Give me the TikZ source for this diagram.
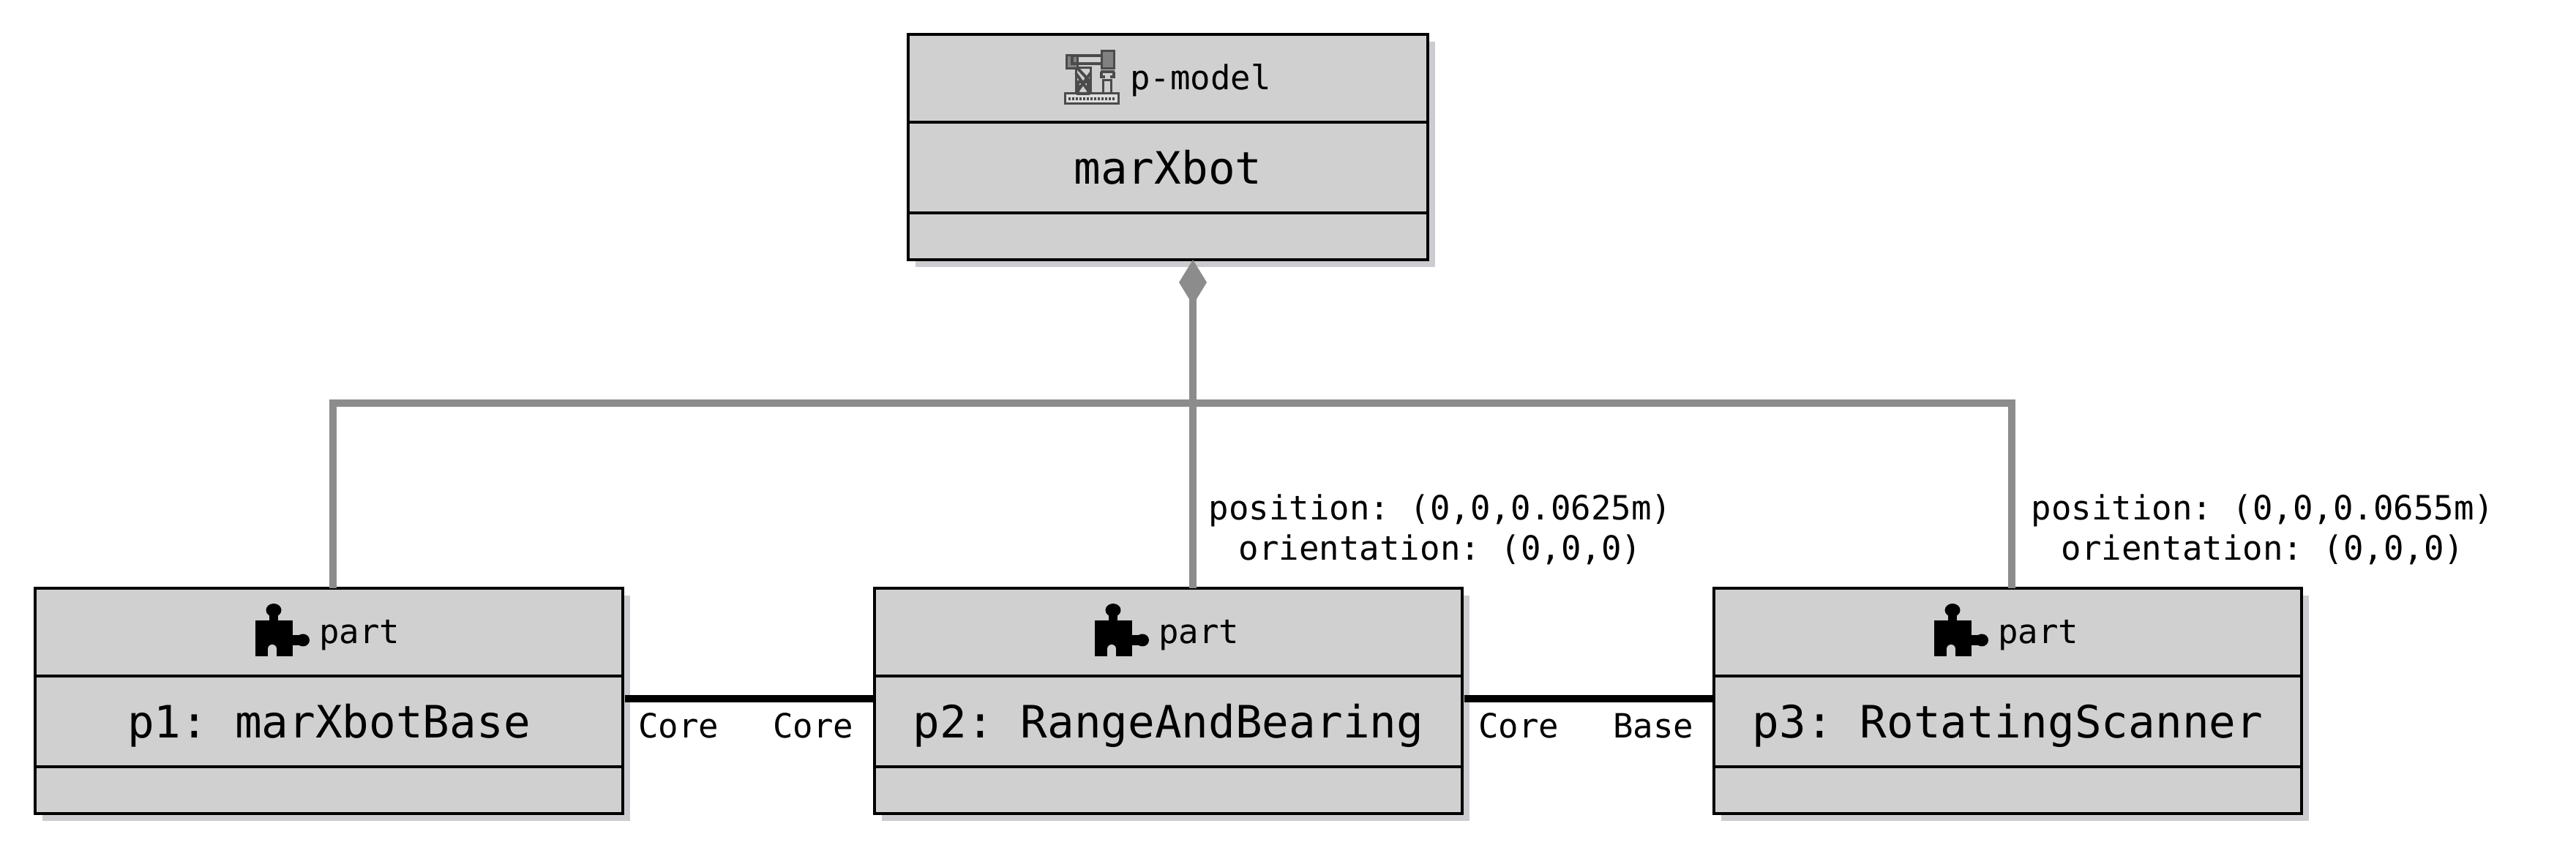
\documentclass[tikz,border=0pt]{standalone}
\usepackage{fontspec}
\setmainfont{DejaVu Sans Mono}
\usetikzlibrary{arrows.meta, positioning, shadows}
\definecolor{boxgrey}{RGB}{208, 208, 208}
\definecolor{shadowgrey}{RGB}{204, 204, 208}
\definecolor{linkgrey}{RGB}{140, 140, 140}
\definecolor{icongrey}{RGB}{75, 75, 75}
\frenchspacing
\tikzset{
  compartment/.style={draw=black, line width=0.035cm, fill=boxgrey, outer sep=0pt, inner sep=0pt,
    drop shadow={shadow xshift=0.1cm, shadow yshift=-0.1cm, fill=shadowgrey, opacity=1}},
  headbox/.style={compartment, minimum height=1.2cm},
  namebox/.style={compartment, minimum height=1.24cm, text height=0.5cm, text depth=0.04cm,
    font=\fontsize{17.35}{20}\selectfont},
  attrbox/.style={compartment, minimum height=0.64cm},
  smalltext/.style={inner sep=0pt, outer sep=0pt, font=\fontsize{13}{15.8}\selectfont},
  composition/.style={draw=linkgrey, line width=0.1cm},
  portlink/.style={draw=black, line width=0.1cm},
  puzzleicon/.pic={
    \fill[black] (0,0) rectangle (0.51,0.49);
    \fill[black] (0.19,0.45) rectangle (0.31,0.6);
    \fill[black] (0.25,0.63) ellipse (0.105 and 0.09);
    \fill[black] (0.5,0.15) rectangle (0.62,0.29);
    \fill[black] (0.65,0.22) ellipse (0.09 and 0.085);
    \fill[boxgrey] (0.17,-0.01) rectangle (0.29,0.1);
    \fill[boxgrey] (0.23,0.1) circle (0.06);
  },
  roboticon/.pic={
    \draw[icongrey, line width=0.03cm, fill=boxgrey!70] (0,0) rectangle (0.73,0.14);
    \draw[icongrey, line width=0.04cm, dash pattern=on 0.03cm off 0.02cm] (0.05,0.07) -- (0.68,0.07);
    \draw[icongrey, line width=0.03cm] (0.15,0.14) -- (0.15,0.49) -- (0.35,0.49) -- (0.35,0.14);
    \draw[icongrey, line width=0.04cm] (0.15,0.42) -- (0.35,0.14) (0.35,0.42) -- (0.15,0.14) (0.05,0.62) -- (0.35,0.3) (0.18,0.14) rectangle (0.32,0.3);
    \draw[icongrey, line width=0.03cm, fill=icongrey!70] (0.02,0.48) rectangle (0.17,0.66);
    \draw[icongrey, line width=0.04cm] (0.1,0.66) rectangle (0.55,0.55);
    \draw[icongrey, line width=0.03cm, fill=icongrey!70] (0.5,0.48) rectangle (0.67,0.72);
    \draw[icongrey, line width=0.04cm] (0.5,0.44) -- (0.5,0.37) -- (0.55,0.37) (0.67,0.44) -- (0.67,0.37) -- (0.62,0.37) (0.49,0.44) -- (0.68,0.44);
    \draw[icongrey, line width=0.03cm] (0.52,0.14) rectangle (0.63,0.32);
  }
}
\begin{document}
\begin{tikzpicture}
  \useasboundingbox (0,0) rectangle (35.2,11.7);

  \node[headbox, minimum width=7.1cm] (modelhead) at (15.96,10.63) {};
  \node[namebox, minimum width=7.1cm, below=0pt of modelhead] (modelname) {marXbot};
  \node[attrbox, minimum width=7.1cm, below=0pt of modelname] (modelattr) {};
  \pic at ([xshift=-1.41cm, yshift=-0.35cm]modelhead.center) {roboticon};
  \node[smalltext, anchor=base west] (modelkind) at ([xshift=-0.52cm, yshift=-0.16cm]modelhead.center) {p-model};

  \foreach \id/\xpos/\title in {p1/4.495/p1: marXbotBase, p2/15.965/p2: RangeAndBearing, p3/27.435/p3: RotatingScanner} {
    \node[headbox, minimum width=8.03cm] (\id head) at (\xpos,3.06) {};
    \node[namebox, minimum width=8.03cm, below=0pt of \id head] (\id name) {\title};
    \node[attrbox, minimum width=8.03cm, below=0pt of \id name] (\id attr) {};
    \pic at ([xshift=-1.005cm, yshift=-0.33cm]\id head.center) {puzzleicon};
    \node[smalltext, anchor=base west] (\id kind) at ([xshift=-0.135cm, yshift=-0.16cm]\id head.center) {part};
  }

  \coordinate (bus) at (16.3,6.19);
  \draw[composition, {Diamond[length=0.62cm, width=0.38cm, fill=linkgrey]}-] ([xshift=0.34cm]modelattr.south) -- ([xshift=0.335cm]p2head.north);
  \draw[composition] ([xshift=0.055cm]p1head.north) |- (bus) -| ([xshift=0.055cm]p3head.north);

  \draw[portlink] ([xshift=0.03cm, yshift=0.31cm]p1name.east) -- ([yshift=0.31cm]p2name.west);
  \draw[portlink] ([xshift=0.03cm, yshift=0.31cm]p2name.east) -- ([yshift=0.31cm]p3name.west);

  \node[smalltext, anchor=base west] (p1core) at (8.72,1.61) {Core};
  \node[smalltext, anchor=base west] (p2corel) at (10.56,1.61) {Core};
  \node[smalltext, anchor=base west] (p2corer) at (20.2,1.61) {Core};
  \node[smalltext, anchor=base west] (p3base) at (22.04,1.61) {Base};

  \node[smalltext, align=center] (p2pose) at (19.68,4.46) {position: (0,0,0.0625m)\\orientation: (0,0,0)};
  \node[smalltext, align=center] (p3pose) at (30.92,4.46) {position: (0,0,0.0655m)\\orientation: (0,0,0)};
\end{tikzpicture}
\end{document}
